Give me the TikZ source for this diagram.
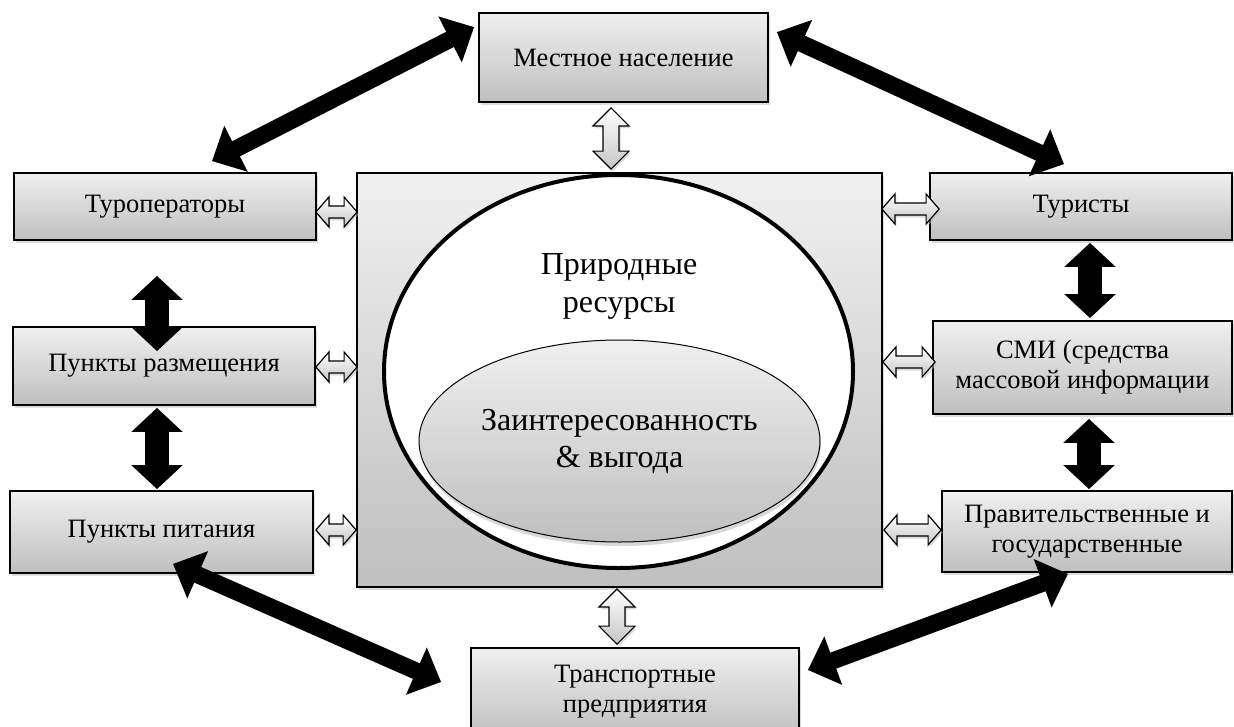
\documentclass[tikz,border=0pt]{standalone}
\usepackage{fontspec}
\setmainfont{Liberation Serif}
\usetikzlibrary{arrows.meta,calc,shadows,shapes.geometric}

% #1,#2 ends, #3 head length, #4 head half width, #5 shaft half width
\newcommand\hollowarrow[5]{%
  \coordinate (ha) at (#1);
  \coordinate (hb) at (#2);
  \shadedraw[hollow] (ha)
    -- ($(ha)!#3!(hb)!#4!90:(hb)$)
    -- ($(ha)!#3!(hb)!#5!90:(hb)$)
    -- ($(hb)!#3!(ha)!#5!-90:(ha)$)
    -- ($(hb)!#3!(ha)!#4!-90:(ha)$)
    -- (hb)
    -- ($(hb)!#3!(ha)!#4!90:(ha)$)
    -- ($(hb)!#3!(ha)!#5!90:(ha)$)
    -- ($(ha)!#3!(hb)!#5!-90:(hb)$)
    -- ($(ha)!#3!(hb)!#4!-90:(hb)$)
    -- cycle;
}

\begin{document}
\begin{tikzpicture}[x=1pt,y=-1pt,
    box/.style={draw=black,line width=1.8pt,top color=gray!12,bottom color=gray!50,
      drop shadow={shadow xshift=1.5pt,shadow yshift=-3pt,fill=gray!55},
      align=center,inner sep=0pt,font=\fontsize{26.5}{30}\selectfont},
    bigarrow/.style={line width=17pt,
      {Triangle[length=27pt,width=50pt]}-{Triangle[length=27pt,width=50pt]}},
    fatarrow/.style={line width=24pt,
      {Triangle[length=24pt,width=50pt]}-{Triangle[length=24pt,width=50pt]}},
    hollow/.style={draw=black,line width=1.2pt,line join=miter,top color=white,bottom color=gray!45,
      drop shadow={shadow xshift=1.5pt,shadow yshift=-2.5pt,fill=gray!55}}]
  \useasboundingbox (0,0) rectangle (1234,726);

  \node[box,minimum width=289pt,minimum height=89pt] (pop)     at (623.5,57.5) {Местное население};
  \node[box,minimum width=302pt,minimum height=67pt] (tour)    at (165,206.5)  {Туроператоры};
  \node[box,minimum width=302pt,minimum height=78pt] (acc)     at (164,366)    {Пункты размещения};
  \node[box,minimum width=303pt,minimum height=82pt] (food)    at (161.5,532)  {Пункты питания};
  \node[box,minimum width=302pt,minimum height=67pt] (tourist) at (1081,206.5) {Туристы};
  \node[box,minimum width=299pt,minimum height=93pt] (media)   at (1082.5,367.5) {СМИ (средства\\массовой информации};
  \node[box,minimum width=290pt,minimum height=81pt] (gov)     at (1087,531.5) {Правительственные и\\государственные};
  \node[box,minimum width=328pt,minimum height=88pt] (transp)  at (635,692)    {Транспортные\\предприятия};

  \node[box,minimum width=525pt,minimum height=414pt] (res) at (619.5,380) {};
  \node[ellipse,draw,line width=4pt,fill=white,inner sep=0pt,
        minimum width=469pt,minimum height=393pt] (nat) at (618.5,371.5) {};
  \node[align=center,font=\fontsize{32}{38}\selectfont] (natlabel) at (619,286) {Природные\\ресурсы};
  \node[ellipse,draw,line width=1pt,top color=gray!12,bottom color=gray!50,
        drop shadow={shadow xshift=1pt,shadow yshift=-4pt,fill=gray!60},
        inner sep=0pt,minimum width=401pt,minimum height=202pt,
        align=center,font=\fontsize{32}{37}\selectfont] (gain) at (619.5,441)
        {Заинтересованность\\\& выгода};

  \coordinate (ul1) at ($(tour.north)+(47,-11)$);
  \coordinate (ul2) at ($(pop.north west)+(-4,15)$);
  \coordinate (ur1) at ($(pop.north east)+(8,20)$);
  \coordinate (ur2) at ($(tourist.north)+(-17,-8)$);
  \coordinate (ll1) at ($(food.south)+(11.5,-10)$);
  \coordinate (ll2) at ($(transp.west)+(-29,-10)$);
  \coordinate (lr1) at ($(transp.east)+(8,-22)$);
  \coordinate (lr2) at ($(gov.south)+(-19,1)$);
  \draw[bigarrow] (ul1) -- (ul2);
  \draw[bigarrow] (ur1) -- (ur2);
  \draw[bigarrow] (ll1) -- (ll2);
  \draw[bigarrow] (lr1) -- (lr2);

  \draw[fatarrow] ($(tour.south)+(-8,35)$)    -- ($(acc.north)+(-7,25)$);
  \draw[fatarrow] ($(acc.south)+(-7,2)$)      -- ($(food.north)+(-4.5,-1)$);
  \draw[fatarrow] ($(tourist.south)+(9,2)$)   -- ($(media.north)+(7.5,-2)$);
  \draw[fatarrow] ($(media.south)+(6.5,4)$)   -- ($(gov.north)+(2,-1)$);

  \hollowarrow{$(pop.south)+(-12.5,5)$}{$(res.north)+(-8.5,-3)$}{18pt}{18pt}{8pt}
  \hollowarrow{$(res.south)+(-2.5,1)$}{$(transp.north)+(-18,-3)$}{18pt}{18pt}{8pt}
  \hollowarrow{$(tour.east)+(-1,5.5)$}{$(res.west|-tour.east)+(1,5.5)$}{13pt}{15pt}{6pt}
  \hollowarrow{$(acc.east)+(0,1)$}{$(res.west|-acc.east)+(1,1)$}{13pt}{15pt}{6pt}
  \hollowarrow{$(food.east)+(2,-2)$}{$(res.west|-food.east)+(0,-2)$}{13pt}{15pt}{6pt}
  \hollowarrow{$(res.east|-tourist.west)+(-1,2.5)$}{$(tourist.west)+(10,2.5)$}{13pt}{15pt}{6pt}
  \hollowarrow{$(res.east|-media.west)+(0,-5.5)$}{$(media.west)+(3,-5.5)$}{13pt}{15pt}{6pt}
  \hollowarrow{$(res.east|-gov.west)+(1,-1.5)$}{$(gov.west)+(0,-1.5)$}{13pt}{15pt}{6pt}
\end{tikzpicture}
\end{document}
